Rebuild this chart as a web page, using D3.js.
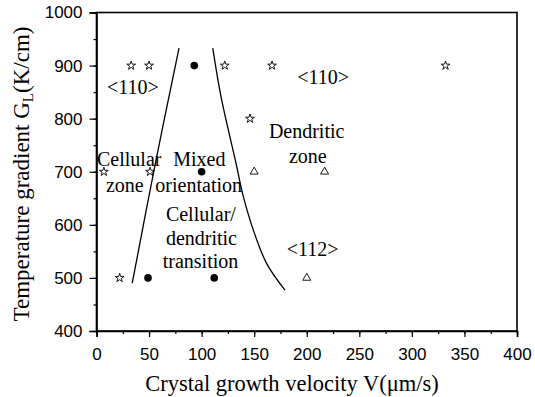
<!DOCTYPE html>
<html><head><meta charset="utf-8">
<script src="https://cdn.jsdelivr.net/npm/d3@7"></script>
<style>body{margin:0;background:#fff}svg{display:block}</style>
</head><body>
<svg id="c" width="535" height="397"></svg>
<script>
// Data
const starPts = [[33,900],[50,900],[122,900],[167,900],[332,900],[146,800],[7,700],[51,700],[22,500]];
const circlePts = [[93,900],[100,700],[49,500],[112,500]];
const trianglePts = [[150,700],[217,700],[200,500]];
const leftBoundary = [[78.5,933],[56,716],[34,490]];
const rightBoundary = [[110.6,933],[118.5,841],[132.7,716],[139.7,653],[149.2,590],[161.9,527],[179.3,477]];
const xTicks = [0,50,100,150,200,250,300,350,400];
const yTicks = [400,500,600,700,800,900,1000];
const labels = [
  {t:"<110>", v:10, g:846},
  {t:"<110>", v:191, g:866},
  {t:"Cellular", v:0.5, g:710},
  {t:"zone", v:9, g:661},
  {t:"Mixed", v:73, g:710},
  {t:"orientation", v:56, g:661},
  {t:"Cellular/", v:66, g:607},
  {t:"dendritic", v:66, g:562},
  {t:"transition", v:63, g:519},
  {t:"Dendritic", v:164, g:764},
  {t:"zone", v:183, g:716},
  {t:"<112>", v:181, g:541}
];

const svg = d3.select("#c");
const m = {l:96.5, r:18, t:12.5, b:66};
const W = 535, H = 397;
const x = d3.scaleLinear().domain([0,400]).range([m.l, W-m.r]);
const y = d3.scaleLinear().domain([400,1000]).range([H-m.b, m.t]);

// frame
svg.append("rect").attr("x",x(0)).attr("y",y(1000)).attr("width",x(400)-x(0)).attr("height",y(400)-y(1000))
  .attr("fill","none").attr("stroke","#000").attr("stroke-width",1.6);

// axes
const xMinor = d3.range(0,401,25);
const yMinor = d3.range(400,1001,50);
svg.append("g").attr("transform",`translate(0,${y(400)})`)
  .call(d3.axisBottom(x).tickValues(xMinor).tickSize(3).tickFormat(""))
  .call(g=>g.select(".domain").remove());
svg.append("g").attr("transform",`translate(${x(0)},0)`)
  .call(d3.axisLeft(y).tickValues(yMinor).tickSize(3).tickFormat(""))
  .call(g=>g.select(".domain").remove());
const xa = svg.append("g").attr("transform",`translate(0,${y(400)})`)
  .call(d3.axisBottom(x).tickValues(xTicks).tickSize(6).tickPadding(11).tickFormat(d3.format("d")));
xa.select(".domain").attr("stroke-width",1.6);
xa.selectAll("text").attr("font-family","Liberation Sans, Arial").attr("font-size",17).attr("fill","#000");
const ya = svg.append("g").attr("transform",`translate(${x(0)},0)`)
  .call(d3.axisLeft(y).tickValues(yTicks).tickSize(7).tickPadding(7).tickFormat(d3.format("d")));
ya.select(".domain").attr("stroke-width",1.6);
ya.selectAll("text").attr("font-family","Liberation Sans, Arial").attr("font-size",17).attr("fill","#000");
svg.selectAll(".tick line").attr("stroke","#000").attr("stroke-width",1.2);

// boundaries
svg.append("path").datum(leftBoundary)
  .attr("d", d3.line().x(d=>x(d[0])).y(d=>y(d[1])).curve(d3.curveCatmullRom))
  .attr("fill","none").attr("stroke","#000").attr("stroke-width",1.3);
svg.append("path").datum(rightBoundary)
  .attr("d", d3.line().x(d=>x(d[0])).y(d=>y(d[1])).curve(d3.curveCatmullRom))
  .attr("fill","none").attr("stroke","#000").attr("stroke-width",1.3);

// markers
svg.append("g").selectAll("path").data(starPts).join("path")
  .attr("transform",d=>`translate(${x(d[0])},${y(d[1])})`)
  .attr("d", d3.symbol(d3.symbolStar, 24))
  .attr("fill","none").attr("stroke","#000").attr("stroke-width",0.9);
svg.append("g").selectAll("circle").data(circlePts).join("circle")
  .attr("cx",d=>x(d[0])).attr("cy",d=>y(d[1])).attr("r",3.8).attr("fill","#000");
svg.append("g").selectAll("path").data(trianglePts).join("path")
  .attr("transform",d=>`translate(${x(d[0])},${y(d[1])})`)
  .attr("d", d3.symbol(d3.symbolTriangle, 28))
  .attr("fill","none").attr("stroke","#000").attr("stroke-width",0.9);

// annotations
svg.append("g").selectAll("text").data(labels).join("text")
  .attr("x",d=>x(d.v)).attr("y",d=>y(d.g))
  .attr("font-family","Liberation Serif, Times New Roman").attr("font-size",20).attr("fill","#000")
  .text(d=>d.t);

// axis titles
svg.append("text").attr("x",292).attr("y",391).attr("text-anchor","middle")
  .attr("font-family","Liberation Serif, Times New Roman").attr("font-size",22.5).attr("fill","#000")
  .text("Crystal growth velocity V(\u03bcm/s)");
const yt = svg.append("text").attr("transform",`translate(29,174) rotate(-90)`)
  .attr("text-anchor","middle")
  .attr("font-family","Liberation Serif, Times New Roman").attr("font-size",23).attr("fill","#000");
yt.append("tspan").text("Temperature gradient G");
yt.append("tspan").attr("font-size",15).attr("dy",4).text("L");
yt.append("tspan").attr("dy",-4).text("(K/cm)");
</script>
</body></html>
